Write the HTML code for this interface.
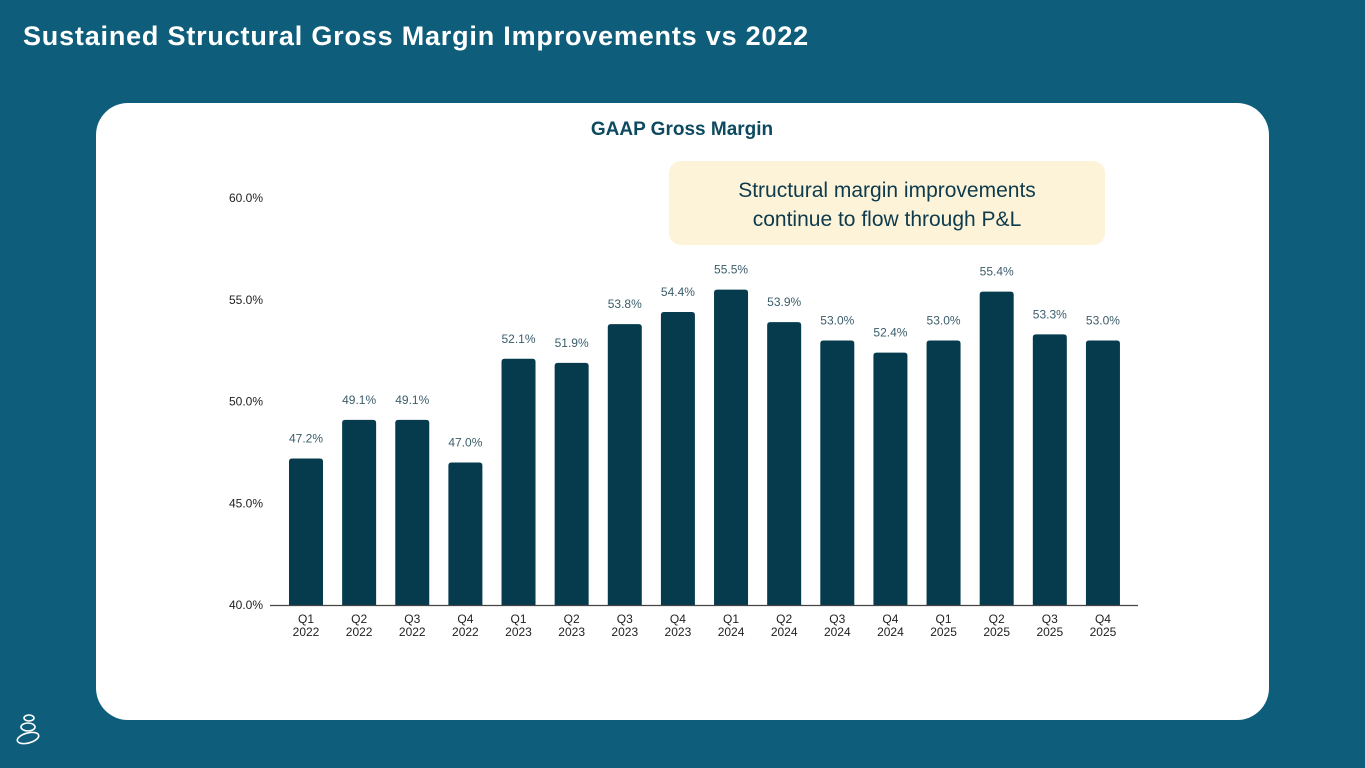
<!DOCTYPE html>
<html><head><meta charset="utf-8"><style>
body{margin:0;width:1365px;height:768px;background:#0e5e7b;font-family:"Liberation Sans",sans-serif;overflow:hidden;position:relative}
#title{position:absolute;left:23px;top:21px;color:#fff;font-size:27px;font-weight:bold;letter-spacing:0.8px}
#card{position:absolute;left:96px;top:103px;width:1173px;height:617px;background:#fff;border-radius:32px}
#callout{position:absolute;left:669px;top:161px;width:436px;height:84px;background:#fdf3d8;border-radius:12px;color:#0d3b4d;font-size:21px;text-align:center;line-height:29px;box-sizing:border-box;padding-top:15px}
svg{position:absolute;left:0;top:0}
</style></head><body>
<div id="title">Sustained Structural Gross Margin Improvements vs 2022</div>
<div id="card"></div>
<svg id="chart" width="1365" height="768"></svg>
<div id="callout">Structural margin improvements<br>continue to flow through P&amp;L</div>
<svg width="40" height="50" style="left:12px;top:712px">
<g fill="none" stroke="#fff" stroke-width="1.6"><ellipse cx="17" cy="6" rx="5" ry="3"/><ellipse cx="16" cy="15" rx="7" ry="4"/><ellipse cx="16" cy="26" rx="11" ry="5" transform="rotate(-15 16 26)"/></g>
</svg>
<script>
const categories=["Q1|2022","Q2|2022","Q3|2022","Q4|2022","Q1|2023","Q2|2023","Q3|2023","Q4|2023","Q1|2024","Q2|2024","Q3|2024","Q4|2024","Q1|2025","Q2|2025","Q3|2025","Q4|2025"];
const values=[47.2,49.1,49.1,47.0,52.1,51.9,53.8,54.4,55.5,53.9,53.0,52.4,53.0,55.4,53.3,53.0];
const ticks=[40,45,50,55,60];
const NS="http://www.w3.org/2000/svg";
const svg=document.getElementById('chart');
const y=v=>605-(v-40)*(605-198)/20;
const x=i=>306+i*53.13;
function mk(t,a,txt){const e=document.createElementNS(NS,t);for(const k in a)e.setAttribute(k,a[k]);if(txt!=null)e.textContent=txt;svg.appendChild(e);return e;}
let e=mk('text',{x:682,y:135,'text-anchor':'middle','font-size':19,'font-weight':'bold',fill:'#0d4a5f'},'GAAP Gross Margin');


ticks.forEach(t=>{const l=mk('text',{x:263,y:y(t)+4,'text-anchor':'end','font-size':12,fill:'#222'},t.toFixed(1)+'%');

});
values.forEach((v,i)=>{
const top=y(v),w=34;
const b=mk('path',{d:`M${x(i)-w/2},605 V${top+3} Q${x(i)-w/2},${top} ${x(i)-w/2+3},${top} H${x(i)+w/2-3} Q${x(i)+w/2},${top} ${x(i)+w/2},${top+3} V605 Z`,fill:'#053b4c'});


const lb=mk('text',{x:x(i),y:top-16,'text-anchor':'middle','font-size':12,fill:'#3b5d6b'},v.toFixed(1)+'%');


const [q,yr]=categories[i].split('|');
const c=mk('text',{x:x(i),y:623,'text-anchor':'middle','font-size':12,fill:'#222'});


const t1=document.createElementNS(NS,'tspan');t1.setAttribute('x',x(i));t1.textContent=q;c.appendChild(t1);
const t2=document.createElementNS(NS,'tspan');t2.setAttribute('x',x(i));t2.setAttribute('dy','13');t2.textContent=yr;c.appendChild(t2);
});
const ax=mk('line',{x1:270,x2:1138,y1:605.5,y2:605.5,stroke:'#444','stroke-width':1.3});


</script>
</body></html>
